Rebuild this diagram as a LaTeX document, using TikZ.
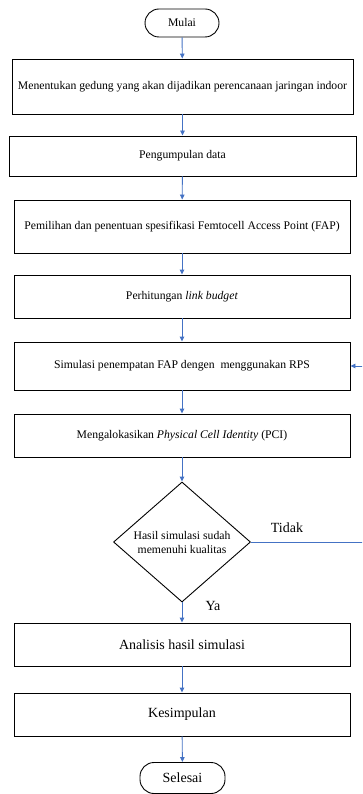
\documentclass[tikz,border=0pt]{standalone}
\usepackage{fontspec}
\setmainfont{Liberation Serif}
\usetikzlibrary{shapes.geometric,arrows.meta}
\definecolor{flowblue}{HTML}{4472C4}
\tikzset{
  procbox/.style={draw=black, line width=0.9pt, rectangle, inner sep=0pt, align=center, font=\fontsize{11.7}{14}\selectfont},
  bigbox/.style={procbox, font=\fontsize{14}{16}\selectfont},
  termbox/.style={draw=black, line width=0.9pt, rectangle, rounded corners=14pt, inner sep=0pt, align=center},
  decbox/.style={draw=black, line width=0.9pt, diamond, inner sep=0pt, align=center, font=\fontsize{11.7}{14}\selectfont},
  flow/.style={draw=flowblue, line width=0.9pt, -{Triangle[width=4.5pt,length=5pt]}},
  flowline/.style={draw=flowblue, line width=0.9pt},
  lbl/.style={inner sep=0pt, font=\fontsize{14}{16}\selectfont}
}
\begin{document}
\begin{tikzpicture}[x=1pt,y=-1pt]
\clip (0,0) rectangle (362,794);
\fill[white] (0,0) rectangle (362,794);
\node[termbox, minimum width=74pt, minimum height=28pt, font=\fontsize{11.7}{14}\selectfont] (mulai) at (182,23) {Mulai};
\node[procbox, minimum width=341pt, minimum height=55pt] (b1) at (182.5,86.5) {Menentukan gedung yang akan dijadikan perencanaan jaringan indoor};
\node[procbox, minimum width=347pt, minimum height=40pt] (b2) at (182.5,156) {Pengumpulan data};
\node[procbox, minimum width=336pt, minimum height=53pt] (b3) at (182,226.5) {Pemilihan dan penentuan spesifikasi Femtocell Access Point (FAP)};
\node[procbox, minimum width=336pt, minimum height=43pt] (b4) at (182,296.5) {Perhitungan \textit{link budget}};
\node[procbox, minimum width=336pt, minimum height=48pt] (b5) at (182,366) {Simulasi penempatan FAP dengen\ \ menggunakan RPS};
\node[procbox, minimum width=336pt, minimum height=43pt] (b6) at (182,435.5) {Mengalokasikan \textit{Physical Cell Identity} (PCI)};
\node[decbox, minimum width=137pt, minimum height=120pt] (d) at (182,542) {Hasil simulasi sudah\\memenuhi kualitas};
\node[bigbox, minimum width=336pt, minimum height=43pt] (b7) at (182,644.5) {Analisis hasil simulasi};
\node[bigbox, minimum width=336pt, minimum height=43pt] (b8) at (182,714.5) {Kesimpulan};
\node[termbox, minimum width=85pt, minimum height=31pt, font=\fontsize{14}{16}\selectfont] (selesai) at (182.5,778) {Selesai};
\node[lbl] (tidak) at (287,528) {Tidak};
\node[lbl] (ya) at (213,606) {Ya};
\coordinate (loop) at (372,542);
\draw[flow] (mulai) -- (b1);
\draw[flow] (b1) -- (b2);
\draw[flow] (b2) -- (b3);
\draw[flow] (b3) -- (b4);
\draw[flow] (b4) -- (b5);
\draw[flow] (b5) -- (b6);
\draw[flow] (b6) -- (d);
\draw[flow] (d) -- (b7);
\draw[flow] (b7) -- (b8);
\draw[flow] (b8) -- (selesai);
\draw[flow] (d.east) -- (loop) |- (b5.east);
\end{tikzpicture}
\end{document}
